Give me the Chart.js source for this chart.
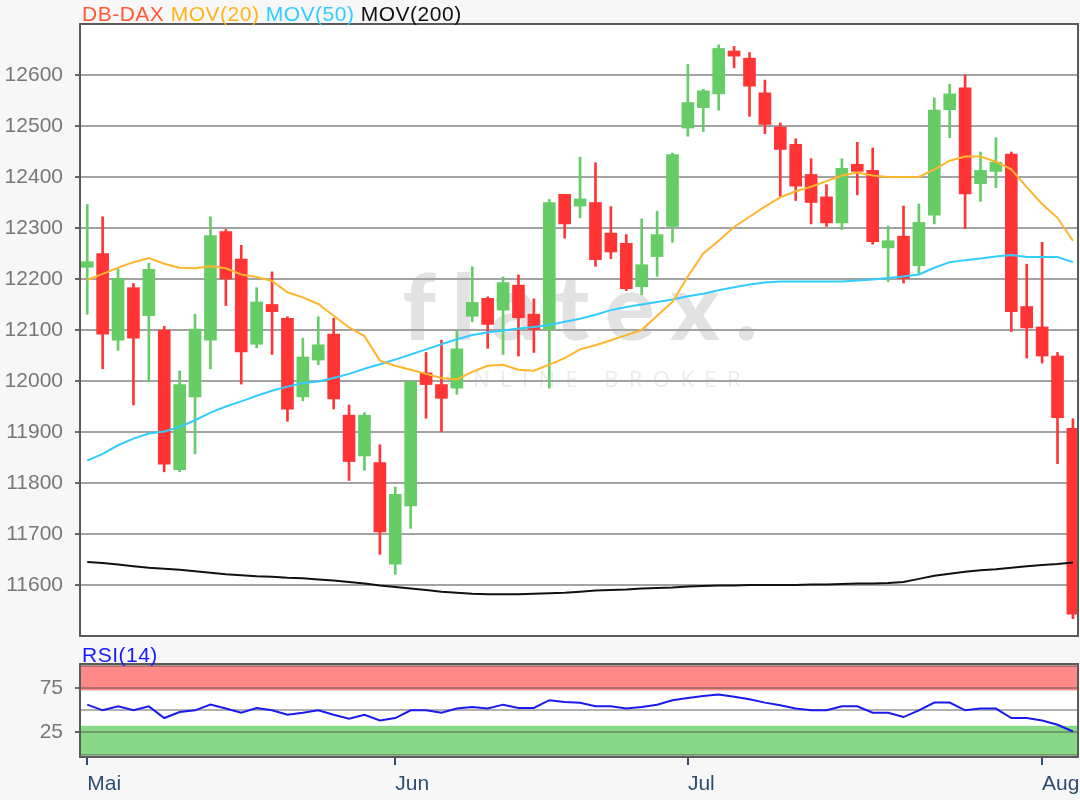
<!DOCTYPE html>
<html>
<head>
<meta charset="utf-8">
<title>DB-DAX</title>
<script src="https://cdn.jsdelivr.net/npm/chart.js@4.4.1/dist/chart.umd.min.js"></script>
<style>
  html, body { margin: 0; padding: 0; background: #f7f7f7; }
  #wrap { position: relative; width: 1080px; height: 800px; overflow: hidden; font-family: "Liberation Sans", Arial, sans-serif; }
  #main { position: absolute; left: 0; top: 0; }
  #rsi { position: absolute; left: 0; top: 640px; }
  .label { position: absolute; left: 82px; font-size: 21px; line-height: 21px; letter-spacing: 0.5px; white-space: pre; }
</style>
</head>
<body>
<div id="wrap">
  <canvas id="main" width="1080" height="640"></canvas>
  <canvas id="rsi" width="1080" height="160"></canvas>
  <div class="label" style="top:3px"><span style="color:#ff5a36">DB-DAX</span> <span style="color:#ffb31a">MOV(20)</span> <span style="color:#33ccff">MOV(50)</span> <span style="color:#111">MOV(200)</span></div>
  <div class="label" style="top:644px;color:#1a1aff">RSI(14)</div>
</div>
<script>
// daily candles, 2 May .. 5 Aug
const open = [12223,12250,12080,12183,12128,12100,11826,11969,12080,12293,
  12239,12072,12150,12123,11969,12041,12092,11933,11853,11840,
  11641,11755,12016,11993,11986,12127,12162,12139,12188,12131,
  12101,12366,12343,12350,12290,12270,12185,12244,12303,12496,
  12536,12563,12647,12633,12565,12498,12464,12405,12361,12310,
  12425,12413,12261,12284,12226,12325,12532,12575,12387,12411,
  12445,12146,12106,12049,11907];
const high = [12346,12322,12219,12191,12231,12107,12020,12131,12322,12297,
  12266,12183,12214,12126,12084,12126,12123,11953,11938,11875,
  11792,12000,12056,12080,12098,12224,12165,12204,12208,12161,
  12356,12366,12439,12428,12342,12287,12318,12333,12447,12621,
  12572,12659,12656,12644,12590,12506,12475,12436,12385,12436,
  12468,12457,12304,12343,12347,12555,12582,12600,12449,12477,
  12449,12229,12272,12056,11926];
const low = [12131,12024,12060,11953,11999,11822,11822,11857,12024,12148,
  11994,12065,12052,11921,11961,12032,11945,11805,11825,11660,
  11621,11711,11927,11901,11974,12116,12064,12052,12049,12056,
  11986,12280,12320,12225,12240,12177,12169,12205,12272,12480,
  12489,12531,12614,12519,12485,12362,12354,12308,12303,12297,
  12365,12268,12195,12192,12208,12308,12477,12299,12352,12379,
  12097,12045,12035,11838,11534];
const close = [12234,12092,12201,12084,12219,11837,11993,12102,12285,12200,
  12057,12155,12136,11945,12047,12071,11965,11842,11933,11704,
  11778,11999,11993,11966,12063,12154,12111,12193,12124,12101,
  12350,12308,12357,12238,12253,12181,12228,12287,12444,12546,
  12569,12652,12637,12578,12503,12454,12382,12350,12310,12417,
  12411,12273,12275,12201,12311,12531,12563,12367,12413,12429,
  12136,12104,12049,11928,11543];

const ma20 = [12198,12210,12222,12233,12241,12230,12222,12221,12225,12221,
  12209,12204,12196,12174,12164,12151,12128,12105,12088,12040,
  12030,12022,12014,12006,12003,12018,12030,12032,12022,12020,
  12032,12045,12062,12070,12080,12090,12100,12128,12155,12205,
  12250,12275,12302,12322,12342,12360,12372,12381,12392,12403,
  12409,12403,12400,12400,12400,12415,12432,12440,12440,12430,
  12415,12380,12347,12320,12275];
const ma50 = [11844,11857,11874,11887,11897,11901,11910,11923,11938,11950,
  11960,11971,11981,11989,11996,11999,12006,12014,12024,12033,
  12042,12052,12062,12072,12082,12090,12095,12099,12103,12106,
  12110,12116,12122,12130,12139,12145,12150,12155,12160,12166,
  12171,12178,12184,12189,12193,12195,12195,12195,12195,12195,
  12197,12199,12202,12205,12209,12222,12233,12237,12240,12244,
  12247,12243,12243,12243,12233];
const ma200 = [11645,11643,11640,11637,11634,11632,11630,11627,11624,11621,
  11619,11617,11616,11614,11613,11611,11609,11606,11603,11599,
  11596,11593,11590,11587,11585,11583,11582,11582,11582,11583,
  11584,11585,11587,11589,11590,11591,11593,11594,11595,11597,
  11598,11599,11599,11600,11600,11600,11600,11601,11601,11602,
  11603,11603,11604,11606,11612,11618,11622,11626,11629,11631,
  11634,11637,11639,11641,11644];
const rsi = [56.4,50,54.5,50,54.5,41.3,48,50,56.4,52,
  47.3,52.7,50,45,47.3,50,45,40.5,45,38.6,
  41.3,50,50,47.3,52,53.8,52,56.4,52.7,52.7,
  61.4,59.5,58.5,54.5,54.5,52,53.8,56.4,61.4,64,
  66.3,67.8,65.2,62.5,58.7,55.7,52,50,50,54.5,
  54.5,47.3,47.3,42.4,50,58.7,58.7,50,52,52,
  41.3,41.3,38.6,33.7,26.1];

const monthTicks = [0, 20, 39, 62];
const monthLabels = ["Mai", "Jun", "Jul", "Aug"];
const priceTicks = [11600, 11700, 11800, 11900, 12000, 12100, 12200, 12300, 12400, 12500, 12600];
const rsiLines = [0, 25, 50, 75, 100];
const rsiLabels = [25, 75];

const UP = "#66cc66";
const DOWN = "#ff3535";
const FONT = "'Liberation Sans', Arial, sans-serif";
const X_MIN = -0.47, X_MAX = 64.33;

const colors = close.map((c, i) => (c >= open[i] ? UP : DOWN));
const pts = (arr) => arr.map((v, i) => ({ x: i, y: v }));

function spaced(ctx, text, cx, y, width) {
  const chars = [...text];
  const ws = chars.map((c) => ctx.measureText(c).width);
  const gap = (width - ws.reduce((a, b) => a + b, 0)) / (chars.length - 1);
  let x = cx - width / 2;
  chars.forEach((c, i) => {
    ctx.fillText(c, x, y);
    x += ws[i] + gap;
  });
}

// fixed axis boxes, no extra label padding
function fixWidth(s) {
  s.width = 80;
  s.paddingTop = 0;
  s.paddingBottom = 0;
}
function fixHeight(s) {
  s.height = 43;
  s.paddingLeft = 0;
  s.paddingRight = 0;
}

// white plot area, bands, watermark, frame
const panel = {
  id: "panel",
  beforeDraw(chart, args, opts) {
    const { ctx, chartArea: a } = chart;
    const y = chart.scales.y;
    ctx.save();
    ctx.fillStyle = "#fff";
    ctx.fillRect(a.left, a.top, a.right - a.left, a.bottom - a.top);
    if (opts.bands) {
      ctx.fillStyle = "#ff8888";
      ctx.fillRect(a.left, y.getPixelForValue(100.5), a.right - a.left, y.getPixelForValue(72.5) - y.getPixelForValue(100.5));
      ctx.fillStyle = "#88d888";
      ctx.fillRect(a.left, y.getPixelForValue(32.5), a.right - a.left, y.getPixelForValue(-0.8) - y.getPixelForValue(32.5));
    }
    if (opts.watermark) {
      ctx.beginPath();
      ctx.rect(a.left, a.top, a.right - a.left, a.bottom - a.top);
      ctx.clip();
      ctx.fillStyle = "#e2e2e2";
      ctx.textBaseline = "alphabetic";
      ctx.font = "900 92px Lato, 'Open Sans', sans-serif";
      spaced(ctx, "flatex.", 580, 340, 355);
      ctx.fillStyle = "#ebebeb";
      ctx.font = "22px 'Open Sans', sans-serif";
      spaced(ctx, "ONLINE BROKER", 593, 387, 295);
    }
    ctx.restore();
  },
  afterDraw(chart) {
    const { ctx, chartArea: a } = chart;
    ctx.save();
    ctx.strokeStyle = "#5a5a5a";
    ctx.lineWidth = 2;
    ctx.strokeRect(a.left, a.top, a.right - a.left, a.bottom - a.top);
    ctx.restore();
  },
};
Chart.register(panel);

new Chart(document.getElementById("main"), {
  type: "bar",
  data: {
    datasets: [
      { type: "line", data: pts(ma20), borderColor: "#ffb52e", borderWidth: 2, pointRadius: 0, order: 0 },
      { type: "line", data: pts(ma50), borderColor: "#33ccff", borderWidth: 2, pointRadius: 0, order: 0 },
      { type: "line", data: pts(ma200), borderColor: "#111", borderWidth: 2, pointRadius: 0, order: 0 },
      {
        data: open.map((o, i) => ({ x: i, y: [o, close[i]] })),
        backgroundColor: colors, barThickness: 12, minBarLength: 2, grouped: false, order: 1,
      },
      {
        data: low.map((l, i) => ({ x: i, y: [l, high[i]] })),
        backgroundColor: colors, barThickness: 2, grouped: false, order: 2,
      },
    ],
  },
  options: {
    responsive: false,
    animation: false,
    layout: { padding: { top: 24, bottom: 4, right: 2, left: 0 } },
    plugins: { legend: { display: false }, tooltip: { enabled: false }, panel: { watermark: true } },
    scales: {
      x: { type: "linear", min: X_MIN, max: X_MAX, display: false, offset: false, grid: { offset: false } },
      y: {
        min: 11500, max: 12700,
        afterFit: fixWidth,
        afterBuildTicks(s) { s.ticks = priceTicks.map((v) => ({ value: v })); },
        ticks: { callback: (v) => String(v), color: "#777", font: { family: FONT, size: 21 }, padding: 12, autoSkip: false },
        grid: { color: "#a3a3a3", lineWidth: 2, tickLength: 5, tickColor: "#666" },
        border: { display: false },
      },
    },
  },
});

new Chart(document.getElementById("rsi"), {
  type: "line",
  data: {
    datasets: [
      { data: pts(rsi), borderColor: "#1a1aee", borderWidth: 2, pointRadius: 0 },
    ],
  },
  options: {
    responsive: false,
    animation: false,
    layout: { padding: { top: 24, bottom: 0, right: 2, left: 0 } },
    plugins: { legend: { display: false }, tooltip: { enabled: false }, panel: { bands: true } },
    scales: {
      x: {
        type: "linear", min: X_MIN, max: X_MAX, offset: false,
        afterFit: fixHeight,
        afterBuildTicks(s) { s.ticks = monthTicks.map((v) => ({ value: v })); },
        ticks: {
          callback: (v) => monthLabels[monthTicks.indexOf(v)],
          align: "start", color: "#2f4d6e", font: { family: FONT, size: 21 },
          padding: 7, autoSkip: false, maxRotation: 0,
        },
        grid: { drawOnChartArea: false, offset: false, tickLength: 8, tickColor: "#2f4d6e", lineWidth: 2 },
        border: { display: false },
      },
      y: {
        min: -2.7, max: 102.3,
        afterFit: fixWidth,
        afterBuildTicks(s) { s.ticks = rsiLines.map((v) => ({ value: v })); },
        ticks: {
          callback: (v) => (rsiLabels.includes(v) ? String(v) : ""),
          color: "#777", font: { family: FONT, size: 21 }, padding: 12, autoSkip: false,
        },
        grid: {
          color: "rgba(70,70,70,0.42)", lineWidth: 2, tickLength: 5,
          tickColor: (c) => (c.tick && rsiLabels.includes(c.tick.value) ? "#666" : "rgba(0,0,0,0)"),
        },
        border: { display: false },
      },
    },
  },
});
</script>
</body>
</html>
